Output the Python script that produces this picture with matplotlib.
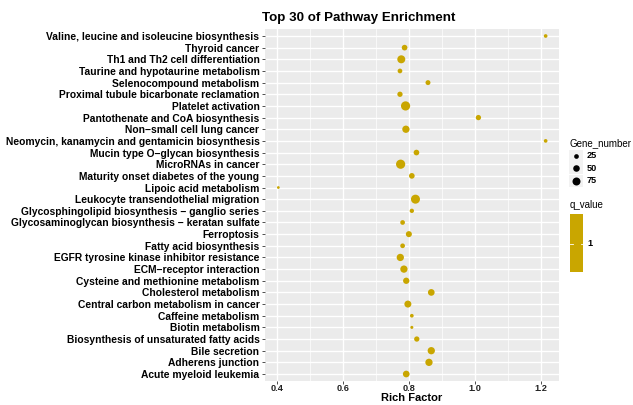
import matplotlib
matplotlib.use("Agg")
import matplotlib.pyplot as plt
from matplotlib.patches import Rectangle
import numpy as np

plt.rcParams['font.family'] = ['Liberation Sans', 'DejaVu Sans']

# Pathways listed from top to bottom
pathways = [
    "Valine, leucine and isoleucine biosynthesis",
    "Thyroid cancer",
    "Th1 and Th2 cell differentiation",
    "Taurine and hypotaurine metabolism",
    "Selenocompound metabolism",
    "Proximal tubule bicarbonate reclamation",
    "Platelet activation",
    "Pantothenate and CoA biosynthesis",
    "Non\u2212small cell lung cancer",
    "Neomycin, kanamycin and gentamicin biosynthesis",
    "Mucin type O\u2212glycan biosynthesis",
    "MicroRNAs in cancer",
    "Maturity onset diabetes of the young",
    "Lipoic acid metabolism",
    "Leukocyte transendothelial migration",
    "Glycosphingolipid biosynthesis \u2212 ganglio series",
    "Glycosaminoglycan biosynthesis \u2212 keratan sulfate",
    "Ferroptosis",
    "Fatty acid biosynthesis",
    "EGFR tyrosine kinase inhibitor resistance",
    "ECM\u2212receptor interaction",
    "Cysteine and methionine metabolism",
    "Cholesterol metabolism",
    "Central carbon metabolism in cancer",
    "Caffeine metabolism",
    "Biotin metabolism",
    "Biosynthesis of unsaturated fatty acids",
    "Bile secretion",
    "Adherens junction",
    "Acute myeloid leukemia",
]

rich_factor = [
    1.215, 0.787, 0.777, 0.773, 0.858, 0.773, 0.790, 1.011, 0.791, 1.215,
    0.823, 0.775, 0.809, 0.404, 0.820, 0.809, 0.781, 0.800, 0.781, 0.774,
    0.785, 0.792, 0.868, 0.797, 0.809, 0.809, 0.824, 0.868, 0.861, 0.792,
]

gene_number = [
    15, 37, 75, 25, 28, 32, 100, 32, 62, 15,
    37, 100, 37, 8, 96, 21, 25, 42, 25, 62,
    62, 46, 52, 57, 15, 10, 32, 62, 62, 52,
]

q_value = [1] * 30

size_breaks = [25, 50, 75]
x_ticks = [0.4, 0.6, 0.8, 1.0, 1.2]

W, H = 633, 405
DPI = 100
GOLD = "#C9A600"
PANEL = "#EBEBEB"


def marker_area(g):
    # point diameter in pixels grows with sqrt of gene count
    d_px = 0.2 + 0.9 * np.sqrt(np.asarray(g, dtype=float))
    d_pt = d_px * 72.0 / DPI
    return d_pt ** 2


fig = plt.figure(figsize=(W / DPI, H / DPI), dpi=DPI)
L, R, T, B = 265, 559, 29, 381
ax = fig.add_axes([L / W, 1 - B / H, (R - L) / W, (B - T) / H])
ax.set_facecolor(PANEL)

n = len(pathways)
ypos = np.arange(n)[::-1]

xmin, xmax = min(rich_factor), max(rich_factor)
pad = 0.05 * (xmax - xmin)
ax.set_xlim(xmin - pad, xmax + pad)
ax.set_ylim(-0.6, n - 1 + 0.6)

ax.set_xticks(x_ticks)
ax.set_xticklabels([f"{t:.1f}" for t in x_ticks])
ax.set_xticks([0.5, 0.7, 0.9, 1.1], minor=True)
ax.set_yticks(ypos)
ax.set_yticklabels(pathways)

ax.grid(which="major", color="white", linewidth=1.0)
ax.grid(which="minor", axis="x", color="white", linewidth=0.5)
ax.set_axisbelow(True)
for s in ax.spines.values():
    s.set_visible(False)

ax.tick_params(axis="y", which="major", length=2.5, width=0.6,
               color="#333333", pad=1.5)
ax.tick_params(axis="x", which="major", length=2.0, width=0.6,
               color="#333333", pad=0.5)
ax.tick_params(axis="x", which="minor", length=0)
for lab in ax.get_yticklabels():
    lab.set_fontsize(7.4)
    lab.set_fontweight("bold")
    lab.set_color("black")
for lab in ax.get_xticklabels():
    lab.set_fontsize(6.6)
    lab.set_fontweight("bold")
    lab.set_color("#222222")

ax.scatter(rich_factor, ypos, s=marker_area(gene_number), c=GOLD,
           linewidths=0, zorder=3)

ax.set_xlabel("Rich Factor", fontsize=8, fontweight="bold", labelpad=0)
fig.text(359 / W, 1 - 18 / H, "Top 30 of Pathway Enrichment",
         ha="center", va="center", fontsize=9.6, fontweight="bold")

# Legend drawn on an overlay in pixel coordinates
ov = fig.add_axes([0, 0, 1, 1])
ov.set_xlim(0, W)
ov.set_ylim(H, 0)
ov.axis("off")

ov.text(570, 143, "Gene_number", fontsize=7.0, va="center", ha="left")
for i, b in enumerate(size_breaks):
    yy = 156 + i * 12.3
    ov.add_patch(Rectangle((569, yy - 6), 14, 12, facecolor="#F2F2F2",
                           edgecolor="none"))
    ov.scatter([576], [yy], s=marker_area(b), c="black", linewidths=0)
    ov.text(587, yy, str(b), fontsize=6.6, fontweight="bold", va="center")

ov.text(570, 205, "q_value", fontsize=7.0, va="center", ha="left")
ov.add_patch(Rectangle((570, 214), 13, 58, facecolor=GOLD, edgecolor="none"))
qy = 244
ov.plot([570, 572.5], [qy, qy], color="white", linewidth=0.6)
ov.plot([580.5, 583], [qy, qy], color="white", linewidth=0.6)
ov.text(587, qy, str(q_value[0]), fontsize=6.6, fontweight="bold",
        va="center")

fig.savefig("out.png", dpi=DPI, facecolor="white")
